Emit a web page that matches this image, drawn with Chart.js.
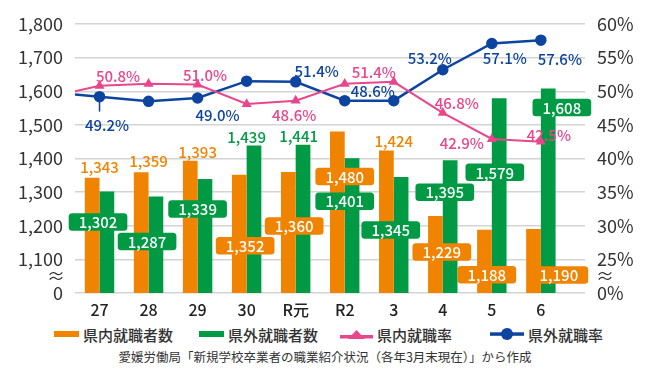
<!DOCTYPE html>
<html><head><meta charset="utf-8">
<script src="https://cdn.jsdelivr.net/npm/chart.js@4/dist/chart.umd.min.js"></script>
<style>
html,body{margin:0;padding:0;background:#fff;}
#wrap{position:relative;width:650px;height:377px;overflow:hidden;font-family:"Noto Sans CJK JP","Noto Sans",sans-serif;color:#333;}
#c{position:absolute;left:0;top:0;}
.leg{position:absolute;top:324px;height:20px;display:flex;align-items:center;font-size:15px;white-space:nowrap;font-weight:500;}
.leg svg{display:block;margin-right:4px;}
.foot{position:absolute;top:348px;left:0;width:650px;text-align:center;font-size:12.5px;line-height:18px;}
</style></head><body>
<div id="wrap">
<canvas id="c" width="650" height="322"></canvas>
<div class="leg" style="left:54px"><svg width="25" height="8"><rect x="0" y="1" width="25" height="6" fill="#F08300"/></svg><span>県内就職者数</span></div>
<div class="leg" style="left:199px"><svg width="25" height="8"><rect x="0" y="1" width="25" height="6" fill="#009A44"/></svg><span>県外就職者数</span></div>
<div class="leg" style="left:340px"><svg width="33" height="12"><rect x="0" y="7" width="33" height="3.5" fill="#E9468C"/><polygon points="8,11 16.5,2 25,11" fill="#E9468C"/></svg><span>県内就職率</span></div>
<div class="leg" style="left:490px"><svg width="34" height="14"><rect x="0" y="5.3" width="34" height="3.5" fill="#0D44A0"/><circle cx="17" cy="7" r="6" fill="#0D44A0"/></svg><span>県外就職率</span></div>
<div class="foot">愛媛労働局「新規学校卒業者の職業紹介状況（各年3月末現在）」から作成</div>
</div>
<script>
// ---- data ----
const categories = ['27','28','29','30','R元','R2','3','4','5','6'];
const inPrefCount = [1343,1359,1393,1352,1360,1480,1424,1229,1188,1190];
const outPrefCount = [1302,1287,1339,1439,1441,1401,1345,1395,1579,1608];
const inPrefRate = [50.8,51.1,51.0,48.1,48.6,51.1,51.4,46.8,42.9,42.5];
const outPrefRate = [49.2,48.5,49.0,51.5,51.4,48.6,48.6,53.2,57.1,57.6];
// values where the rate lines enter the plot at the left edge (from previous year)
const inPrefRateEdge = 50.0;
const outPrefRateEdge = 49.5;
const rateLabelShown = [true,false,true,false,true,false,true,true,true,true];

// ---- styles / label placement (pixels) ----
const C_OR = '#F08300', C_GR = '#009A44', C_PK = '#E9468C', C_BL = '#0D44A0';
const FONT = '"Noto Sans CJK JP","Noto Sans",sans-serif';
const inCountLabelLayout = [['t',0,-10],['t',0,-11],['t',0,-9],['b',-1.5,71],['b',-1.5,54],['b',0,45],['t',0,-9.5],['b',-1,36],['b',-5,45],['b',18,46]];
const outCountLabelLayout = [['b',-1.5,30.5],['b',-1.5,45],['b',0,30],['t',0,-8.5],['t',3,-8],['b',0,43],['b',-3,53],['b',2,32],['b',3,74],['b',21,19]];
const inRateLabelLayout = [[18.5,-10],null,[7.5,-9],null,[-1.5,15],null,[-20,-10],[14,-9],[-30,4],[8,-6]];
const outRateLabelLayout = [[7.5,29],null,[20,17],null,[21,-11],null,[-21,-9],[-13,-11],[13,15],[19,19]];

const fmt = v => v.toLocaleString('en-US');

const labelPlugin = {
  id: 'valueLabels',
  afterDatasetsDraw(chart) {
    const ctx = chart.ctx, xs = chart.scales.x, ys = chart.scales.y, y1 = chart.scales.y1;
    ctx.save();
    ctx.textAlign = 'center';
    ctx.textBaseline = 'middle';
    const countSets = [[inPrefCount, inCountLabelLayout, C_OR], [outPrefCount, outCountLabelLayout, C_GR]];
    countSets.forEach(([vals, lay, col]) => {
      vals.forEach((v, i) => {
        const [mode, dx, dy] = lay[i];
        const x = xs.getPixelForValue(i) + dx, y = ys.getPixelForValue(v) + dy;
        const txt = fmt(v);
        ctx.font = '500 15px ' + FONT;
        if (mode === 'b') {
          const w = ctx.measureText(txt).width + 20, h = 17.5;
          ctx.fillStyle = col;
          ctx.beginPath(); ctx.roundRect(x - w / 2, y - h / 2, w, h, 3.5); ctx.fill();
          ctx.fillStyle = '#fff';
          ctx.fillText(txt, x, y + 0.5);
        } else {
          ctx.fillStyle = col;
          ctx.fillText(txt, x, y);
        }
      });
    });
    const rateSets = [[inPrefRate, inRateLabelLayout, C_PK], [outPrefRate, outRateLabelLayout, C_BL]];
    rateSets.forEach(([vals, lay, col], k) => {
      vals.forEach((v, i) => {
        if (!rateLabelShown[i] || !lay[i]) return;
        const px = xs.getPixelForValue(i), py = y1.getPixelForValue(v);
        const [dx, dy] = lay[i];
        if (k === 1 && i === 0) {
          ctx.strokeStyle = col; ctx.lineWidth = 1.5;
          ctx.beginPath(); ctx.moveTo(px, py); ctx.lineTo(px, py + dy - 14); ctx.stroke();
        }
        ctx.font = '500 15px ' + FONT;
        ctx.fillStyle = col;
        ctx.fillText(v.toFixed(1) + '%', px + dx, py + dy);
      });
    });
    // axis break marks
    ctx.fillStyle = '#333';
    ctx.font = '18px ' + FONT;
    const yb = ys.getPixelForValue(1050);
    ctx.textAlign = 'right';
    ctx.fillText('≈', ys.right - 10, yb);
    ctx.textAlign = 'left';
    ctx.fillText('≈', y1.left + 11, yb);
    ctx.restore();
  }
};

const toPts = (edge, arr) => [{x: -0.5, y: edge}].concat(arr.map((v, i) => ({x: i, y: v})));
const radii = (r) => [0].concat(categories.map(() => r));

new Chart(document.getElementById('c'), {
  type: 'bar',
  data: {
    datasets: [
      { label: '県内就職者数', type: 'bar', data: inPrefCount.map((v, i) => ({x: i, y: v})), backgroundColor: C_OR, yAxisID: 'y', order: 2, categoryPercentage: 0.6, barPercentage: 1.0 },
      { label: '県外就職者数', type: 'bar', data: outPrefCount.map((v, i) => ({x: i, y: v})), backgroundColor: C_GR, yAxisID: 'y', order: 2, categoryPercentage: 0.6, barPercentage: 1.0 },
      { label: '県内就職率', type: 'line', data: toPts(inPrefRateEdge, inPrefRate), borderColor: C_PK, backgroundColor: C_PK, borderWidth: 2, pointStyle: 'triangle', pointRadius: radii(3.8), yAxisID: 'y1', order: 1 },
      { label: '県外就職率', type: 'line', data: toPts(outPrefRateEdge, outPrefRate), borderColor: C_BL, backgroundColor: C_BL, borderWidth: 2.5, pointStyle: 'circle', pointRadius: radii(4.5), yAxisID: 'y1', order: 1 }
    ]
  },
  options: {
    responsive: false,
    animation: false,
    layout: { padding: { top: 24, left: 0, right: 0, bottom: 0 } },
    plugins: { legend: { display: false }, tooltip: { enabled: false } },
    scales: {
      x: {
        type: 'linear', min: -0.5, max: 9.9, offset: false,
        grid: { display: false, drawTicks: false, offset: false },
        border: { display: false },
        afterBuildTicks: s => { s.ticks = categories.map((c, i) => ({ value: i })); },
        afterFit: s => { s.height = 29; },
        ticks: { autoSkip: false, maxRotation: 0, padding: 7, color: '#222', font: { family: FONT, size: 16, weight: '500' }, callback: v => categories[v] }
      },
      y: {
        position: 'left', min: 1000, max: 1800,
        grid: { color: '#d4d4d4', lineWidth: 1.5, drawTicks: false },
        border: { display: false },
        afterFit: s => { s.width = 75; },
        ticks: { stepSize: 100, padding: 12, color: '#333', font: { family: FONT, size: 18 }, callback: v => v === 1000 ? '0' : fmt(v) }
      },
      y1: {
        position: 'right', min: 20, max: 60,
        grid: { drawOnChartArea: false, drawTicks: false },
        border: { display: false },
        afterFit: s => { s.width = 65; },
        ticks: { stepSize: 5, padding: 12, color: '#333', font: { family: FONT, size: 18 }, callback: v => v === 20 ? '0%' : v + '%' }
      }
    }
  },
  plugins: [labelPlugin]
});
</script>
</body></html>
